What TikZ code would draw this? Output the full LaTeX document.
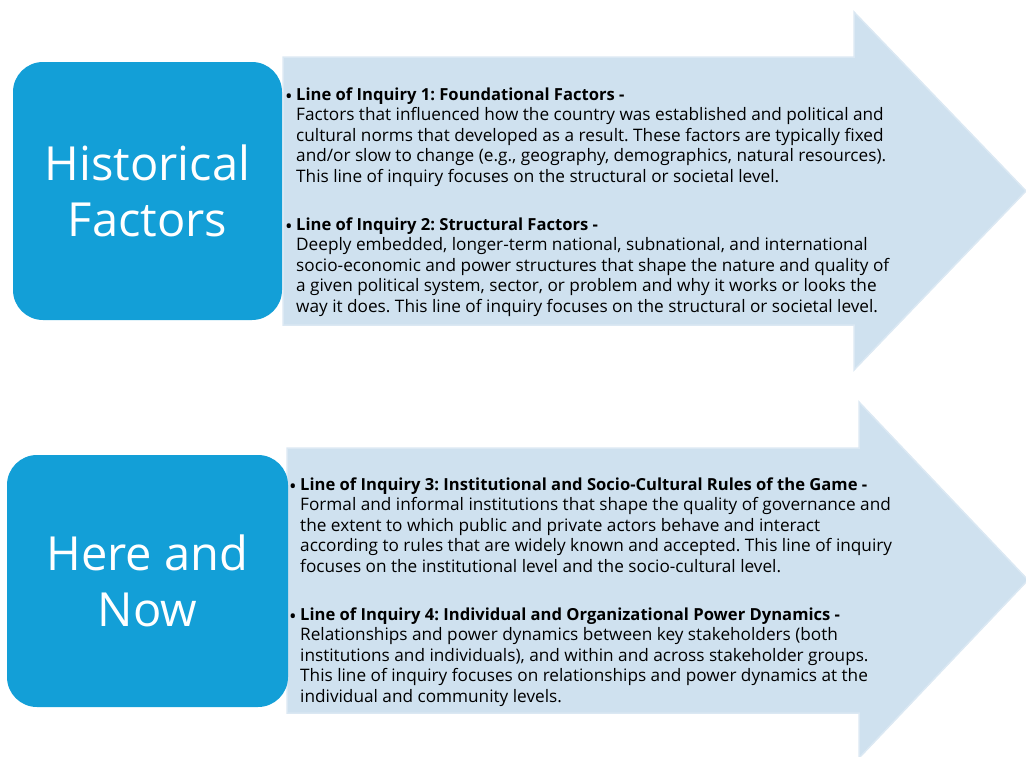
\documentclass[tikz,border=0pt]{standalone}
\usepackage{fontspec}
\setmainfont{Open Sans}
\usetikzlibrary{positioning}

\definecolor{boxblue}{RGB}{19,159,215}
\definecolor{arrowblue}{RGB}{207,225,239}
\definecolor{arrowedge}{RGB}{219,232,243}

% one bullet item: bold title, then the lines of its text
\newcommand{\inquiry}[2]{%
    \begin{tabular}[t]{@{}l@{}l@{}}
        \makebox[11pt][l]{\raisebox{-3pt}{\fontsize{20}{20}\selectfont\textbullet}} & {\fontsize{16.6}{20.5}\selectfont\textbf{#1}}\\
        #2
    \end{tabular}}

\begin{document}
\frenchspacing
\begin{tikzpicture}[
                x=1pt,y=-1pt,
                factorbox/.style={rounded corners=30pt,fill=boxblue,text=white,align=center,
                                  font=\fontsize{47}{56}\selectfont},
                flowarrow/.style={fill=arrowblue,draw=arrowedge,line width=1.5pt,line join=miter},
                every node/.append style={inner sep=0pt}
            ]
                \useasboundingbox (0,0) rectangle (1026,756);

                % arrows behind the boxes
                \draw[flowarrow] (283,57) -- (854,57) -- (854,12) -- (1026,191)
                                 -- (854,370) -- (854,325) -- (283,325) -- cycle;
                \draw[flowarrow] (287,448) -- (859,448) -- (859,402) -- (1028,580)
                                 -- (859,758) -- (859,713) -- (287,713) -- cycle;

                \node (hist) [factorbox,minimum width=269pt,minimum height=258pt] at (147.5,191)
                    {Historical\\Factors};
                \node (now)  [factorbox,minimum width=281pt,minimum height=252pt] at (147.5,581)
                    {Here and\\Now};

                \begin{scope}[every node/.append style={anchor=base west,font=\fontsize{17.2}{20.5}\selectfont}]
                \node (lq1) at (285,100) {\inquiry{Line of Inquiry 1: Foundational Factors -}{
                    & Factors that influenced how the country was established and political and\\
                    & cultural norms that developed as a result. These factors are typically fixed\\
                    & and/or slow to change (e.g., geography, demographics, natural resources).\\
                    & This line of inquiry focuses on the structural or societal level.}};
                \node (lq2) at (285,230) {\inquiry{Line of Inquiry 2: Structural Factors -}{
                    & Deeply embedded, longer-term national, subnational, and international\\
                    & socio-economic and power structures that shape the nature and quality of\\
                    & a given political system, sector, or problem and why it works or looks the\\
                    & way it does. This line of inquiry focuses on the structural or societal level.}};
                \node (lq3) at (289,490) {\inquiry{Line of Inquiry 3: Institutional and Socio-Cultural Rules of the Game -}{
                    & Formal and informal institutions that shape the quality of governance and\\
                    & the extent to which public and private actors behave and interact\\
                    & according to rules that are widely known and accepted. This line of inquiry\\
                    & focuses on the institutional level and the socio-cultural level.}};
                \node (lq4) at (289,620) {\inquiry{Line of Inquiry 4: Individual and Organizational Power Dynamics -}{
                    & Relationships and power dynamics between key stakeholders (both\\
                    & institutions and individuals), and within and across stakeholder groups.\\
                    & This line of inquiry focuses on relationships and power dynamics at the\\
                    & individual and community levels.}};
                \end{scope}
            \end{tikzpicture}
\end{document}
